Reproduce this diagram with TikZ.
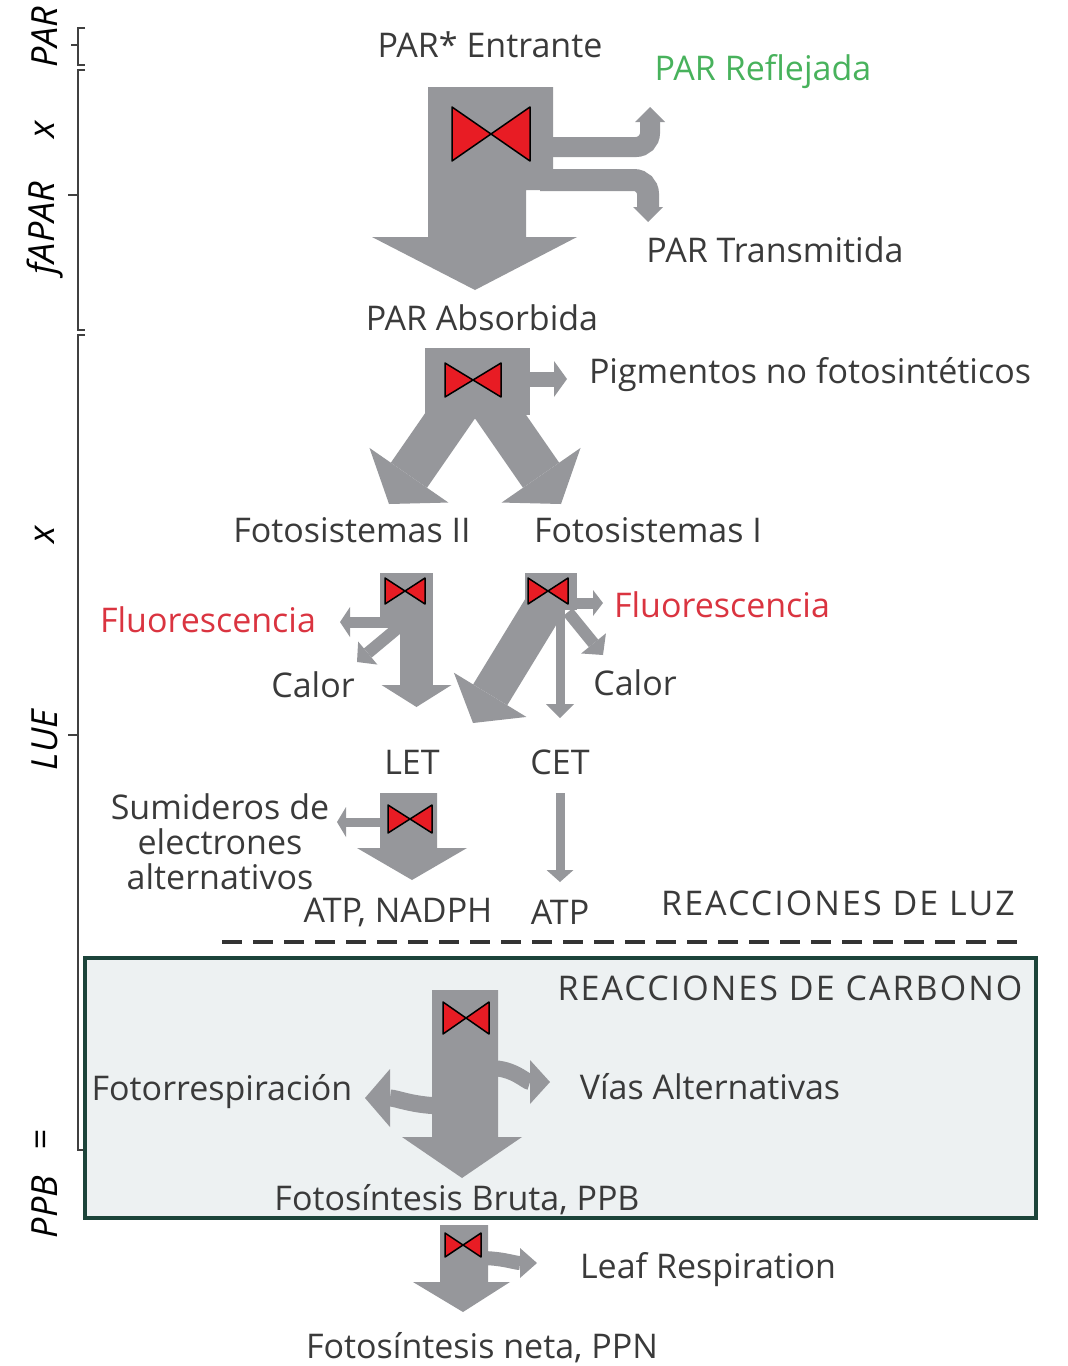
\documentclass[tikz,border=0pt]{standalone}
\usepackage{fontspec}
\setmainfont{Open Sans}
\usetikzlibrary{arrows.meta}
\definecolor{flowgray}{RGB}{150,151,155}
\definecolor{valvered}{RGB}{232,28,36}
\definecolor{txtgray}{RGB}{58,58,58}
\definecolor{refgreen}{RGB}{72,178,92}
\definecolor{fluored}{RGB}{218,52,64}
\definecolor{boxfill}{RGB}{237,241,242}
\definecolor{boxline}{RGB}{28,68,58}
\tikzset{
  lbl/.style={text=txtgray, font=\fontsize{34}{35}\selectfont, inner sep=0pt},
  caps/.style={lbl, font=\fontsize{34}{35}\selectfont\addfontfeature{LetterSpace=6}},
  side/.style={text=black, font=\fontsize{36}{40}\selectfont\itshape, inner sep=0pt, rotate=90},
  flow/.style={draw=flowgray, line width=#1},
  head/.style 2 args={arrows={-{Triangle[width=#1, length=#2, line width=0pt]}}},
  brack/.style={draw=black!75, line width=2.5pt},
  pics/valve/.style 2 args={code={
    \filldraw[fill=valvered, draw=black, line width=1.5pt, line join=round]
      (-#1,-#2) -- (-#1,#2) -- (0,0) -- cycle
      (#1,-#2) -- (#1,#2) -- (0,0) -- cycle;
  }},
}
\begin{document}
\begin{tikzpicture}[x=1pt, y=-1pt]
    \useasboundingbox (0,0) rectangle (1068,1366);

    \draw[brack] (85,28) -- (78,28) -- (78,65) -- (85,65);
    \draw[brack] (78,45) -- (71,45);
    \draw[brack] (85,70) -- (78,70) -- (78,330) -- (85,330);
    \draw[brack] (78,195) -- (68,195);
    \draw[brack] (85,335) -- (78,335) -- (78,1150) -- (85,1150);
    \draw[brack] (78,735) -- (68,735);
    \node[side] (spar) at (45,37) {PAR};
    \node[side] (sx1) at (45,130) {x};
    \node[side] (sfapar) at (45,228) {fAPAR};
    \node[side] (sx2) at (45,535) {x};
    \node[side] (slue) at (45,740) {LUE};
    \node[side] (seq) at (45,1140) {=};
    \node[side] (sppb) at (45,1207) {PPB};

    \node[lbl] (parin) at (490,45) {PAR* Entrante};
    \node[lbl, text=refgreen] (parref) at (763,72) {PAR Reflejada};
    \node[lbl] (partr) at (775,250) {PAR Transmitida};
    \draw[flow=20pt, head={30pt}{15pt}, rounded corners=14pt] (540,147) -- (650,147) -- (650,107);
    \draw[flow=22pt, head={30pt}{15pt}, rounded corners=14pt] (540,180) -- (648,180) -- (648,222);
    \fill[flowgray] (428,87) -- (553,87) -- (553,190) -- (526,190) -- (526,237) -- (577,237)
      -- (475,290) -- (372,237) -- (428,237) -- cycle;
    \pic at (491,134) {valve={39}{27}};

    \node[lbl] (parabs) at (482,318) {PAR Absorbida};
    \node[lbl] (pigm) at (810,375) {Pigmentos no fotosintéticos};
    \draw[flow=15pt, head={36pt}{13pt}] (520,379) -- (567,379);
    \draw[flow=44pt, head={96pt}{35pt}] (461,400) -- (389,504);
    \draw[flow=44pt, head={96pt}{35pt}] (489,400) -- (561,504);
    \fill[flowgray] (425,348) rectangle (530,415);
    \pic at (473,380) {valve={28}{17}};

    \node[lbl] (psii) at (352,530) {Fotosistemas II};
    \node[lbl] (psi) at (648,530) {Fotosistemas I};
    \node[lbl, text=fluored] (fluoa) at (208,620) {Fluorescencia};
    \node[lbl, text=fluored] (fluob) at (722,605) {Fluorescencia};
    \node[lbl] (calora) at (313,685) {Calor};
    \node[lbl] (calorb) at (635,683) {Calor};
    \draw[flow=11pt, head={30pt}{10pt}] (390,622) -- (340,622);
    \draw[flow=12pt, head={30pt}{14pt}] (405,622) -- (357,662);
    \draw[flow=33pt, head={70pt}{22pt}] (416.5,600) -- (416.5,707);
    \fill[flowgray] (380,573) rectangle (433,628);
    \pic at (405,591) {valve={20}{13}};
    \draw[flow=11pt, head={26pt}{10pt}] (570,603) -- (603,603);
    \draw[flow=12pt, head={32pt}{15pt}] (568,612) -- (603,655);
    \draw[flow=40pt, head={85pt}{33pt}] (548,600) -- (473,723);
    \draw[flow=9pt, head={28pt}{14pt}] (560,605) -- (560,718);
    \fill[flowgray] (525,573) rectangle (577,610);
    \pic at (548,591) {valve={20}{13}};

    \node[lbl] (let) at (412,762) {LET};
    \node[lbl] (cet) at (560,762) {CET};
    \node[lbl, align=center] (sumid) at (220,842) {Sumideros de\\electrones\\alternativos};
    \draw[flow=9pt, head={30pt}{9pt}] (385,822) -- (337,822);
    \fill[flowgray] (380,793) -- (437,793) -- (437,848) -- (467,848) -- (412,880) -- (357,848)
      -- (380,848) -- cycle;
    \pic at (410,819) {valve={22}{14}};
    \draw[flow=9pt, head={27pt}{12pt}] (560,793) -- (560,882);
    \node[lbl] (atpn) at (398,912) {ATP, NADPH};
    \node[lbl] (atp) at (560,912) {ATP};
    \node[caps] (luz) at (838,903) {REACCIONES DE LUZ};
    \draw[black!80, line width=3.5pt, dash pattern=on 20pt off 11pt] (222,942) -- (1018,942);

    \draw[fill=boxfill, draw=boxline, line width=4pt] (85,958) rectangle (1036,1218);
    \node[caps] (carb) at (790,988) {REACCIONES DE CARBONO};
    \node[lbl] (fotor) at (222,1092) {Fotorrespiración};
    \node[lbl] (vias) at (710,1087) {Vías Alternativas};
    \draw[flow=17pt, head={58pt}{25pt}] (445,1106) to[out=180, in=0] (365,1098);
    \draw[flow=16pt, head={44pt}{20pt}] (490,1068) to[out=0, in=180] (550,1082);
    \fill[flowgray] (432,990) -- (498,990) -- (498,1137) -- (522,1137) -- (462,1178) -- (402,1137)
      -- (432,1137) -- cycle;
    \pic at (466,1018) {valve={23}{16}};
    \node[lbl] (ppb) at (457,1200) {Fotosíntesis Bruta, PPB};

    \draw[flow=14pt, head={30pt}{17pt}] (480,1258) to[out=0, in=180] (537,1263);
    \fill[flowgray] (440,1225) -- (488,1225) -- (488,1282) -- (510,1282) -- (463,1312) -- (413,1282)
      -- (440,1282) -- cycle;
    \pic at (463,1245) {valve={18}{12}};
    \node[lbl] (resp) at (708,1270) {Leaf Respiration};
    \node[lbl] (ppn) at (482,1348) {Fotosíntesis neta, PPN};
\end{tikzpicture}
\end{document}
